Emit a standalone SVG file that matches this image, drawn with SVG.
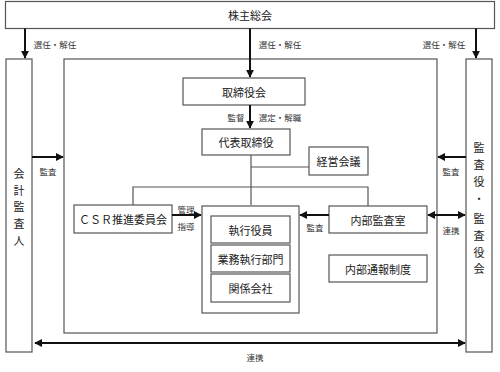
<svg xmlns="http://www.w3.org/2000/svg" width="500" height="372" viewBox="0 0 500 372">
<defs>
<style>
.box{fill:#fff;stroke:#555;stroke-width:1.2}
.t{font-family:"Noto Sans CJK JP","Noto Sans CJK SC",sans-serif;font-size:11px;fill:#222;text-anchor:middle;dominant-baseline:central}
.s{font-family:"Noto Sans CJK JP","Noto Sans CJK SC",sans-serif;font-size:8.5px;fill:#333;text-anchor:middle;dominant-baseline:central}
.arr{stroke:#111;stroke-width:2;fill:none}
.ln{stroke:#555;stroke-width:1.2;fill:none}
</style>
<marker id="ah" viewBox="0 0 10 10" refX="9" refY="5" markerWidth="4" markerHeight="4" orient="auto-start-reverse" markerUnits="strokeWidth">
<path d="M0,0 L10,5 L0,10 z" fill="#111"/>
</marker>
</defs>
<g id="outer">
<rect class="box" x="64" y="59" width="373" height="274"/>
</g>
<g id="kabunushi">
<rect class="box" x="5.5" y="1.5" width="489" height="27"/>
<text class="t" x="250" y="15" font-size="12">株主総会</text>
</g>
<g id="kaikei">
<rect class="box" x="6" y="59" width="26" height="293"/>
<text class="t" x="19" y="173">会</text>
<text class="t" x="19" y="190">計</text>
<text class="t" x="19" y="206">監</text>
<text class="t" x="19" y="223">査</text>
<text class="t" x="19" y="240">人</text>
</g>
<g id="kansayaku">
<rect class="box" x="466" y="59" width="26" height="293"/>
<text class="t" x="479" y="147">監</text>
<text class="t" x="479" y="164">査</text>
<text class="t" x="479" y="181">役</text>
<text class="t" x="479" y="198">・</text>
<text class="t" x="479" y="218">監</text>
<text class="t" x="479" y="235">査</text>
<text class="t" x="479" y="252">役</text>
<text class="t" x="479" y="268">会</text>
</g>
<g id="torishimariyakukai">
<rect class="box" x="183" y="78" width="122" height="27"/>
<text class="t" x="244" y="91.5">取締役会</text>
</g>
<g id="daihyo">
<rect class="box" x="202" y="129" width="88" height="26"/>
<text class="t" x="246" y="142">代表取締役</text>
</g>
<g id="keiei">
<rect class="box" x="309" y="147" width="59" height="28"/>
<text class="t" x="338.5" y="161">経営会議</text>
</g>
<g id="csr">
<rect class="box" x="74" y="205" width="98" height="28"/>
<text class="t" x="123" y="219">ＣＳＲ推進委員会</text>
</g>
<g id="shikko">
<rect class="box" x="202" y="206" width="97" height="107"/>
<rect class="box" x="211" y="216" width="79" height="27"/>
<text class="t" x="250.5" y="229.5">執行役員</text>
<rect class="box" x="211" y="245" width="79" height="27"/>
<text class="t" x="250.5" y="258.5">業務執行部門</text>
<rect class="box" x="211" y="274" width="79" height="28"/>
<text class="t" x="250.5" y="288">関係会社</text>
</g>
<g id="naibukansa">
<rect class="box" x="329" y="206" width="98" height="27"/>
<text class="t" x="378" y="219.5">内部監査室</text>
</g>
<g id="naibutsuho">
<rect class="box" x="329" y="255" width="98" height="27"/>
<text class="t" x="378" y="268.5">内部通報制度</text>
</g>
<g id="connectors">
<line class="arr" x1="25" y1="28.5" x2="25" y2="58" marker-end="url(#ah)"/>
<line class="arr" x1="476" y1="28.5" x2="476" y2="58" marker-end="url(#ah)"/>
<line class="arr" x1="250" y1="28.5" x2="250" y2="77" marker-end="url(#ah)"/>
<line class="arr" x1="250" y1="105" x2="250" y2="128" marker-end="url(#ah)"/>
<polyline class="ln" points="251,155 251,205"/>
<line class="ln" x1="251" y1="167" x2="309" y2="167"/>
<polyline class="ln" points="133,205 133,187 368,187 368,206"/>
<line class="arr" x1="172" y1="215" x2="201" y2="215" marker-end="url(#ah)"/>
<line class="arr" x1="329" y1="215" x2="300" y2="215" marker-end="url(#ah)"/>
<line class="arr" x1="428" y1="215" x2="465" y2="215" marker-start="url(#ah)" marker-end="url(#ah)"/>
<line class="arr" x1="32" y1="157" x2="63" y2="157" marker-end="url(#ah)"/>
<line class="arr" x1="466" y1="157" x2="438" y2="157" marker-end="url(#ah)"/>
<line class="arr" x1="35" y1="343" x2="465" y2="343" marker-start="url(#ah)" marker-end="url(#ah)"/>
<text class="s" x="55" y="44">選任・解任</text>
<text class="s" x="280" y="44">選任・解任</text>
<text class="s" x="444" y="44">選任・解任</text>
<text class="s" x="236" y="117">監督</text>
<text class="s" x="280" y="117">選定・解職</text>
<text class="s" x="186" y="209">管理</text>
<text class="s" x="186" y="226">指導</text>
<text class="s" x="315" y="227">監査</text>
<text class="s" x="451" y="230">連携</text>
<text class="s" x="48" y="171">監査</text>
<text class="s" x="451" y="171">監査</text>
<text class="s" x="255" y="357">連携</text>
</g>
</svg>
